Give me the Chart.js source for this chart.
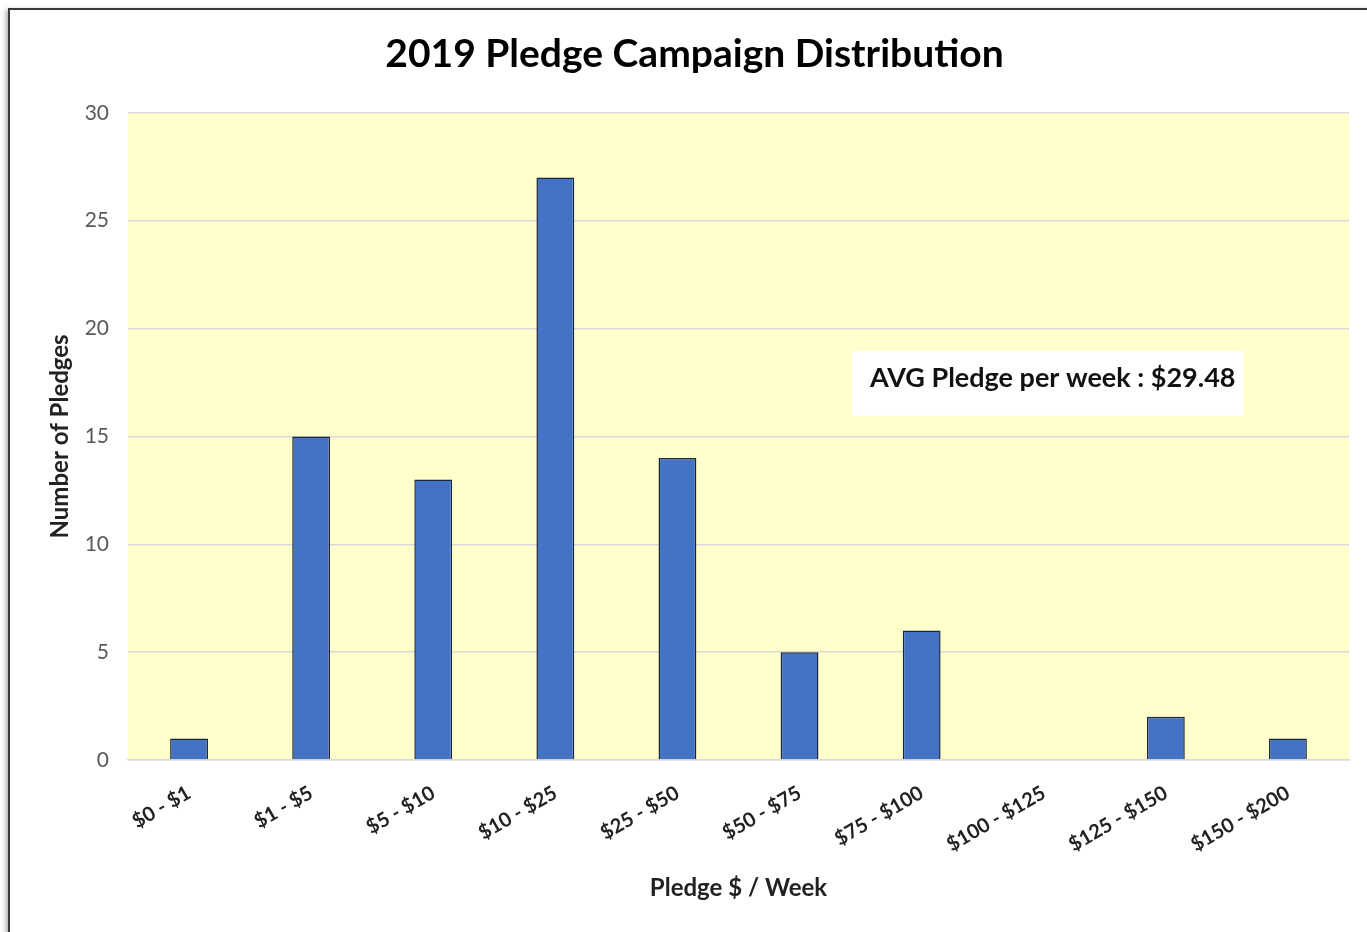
<!DOCTYPE html>
<html>
<head>
<meta charset="utf-8">
<script src="https://cdn.jsdelivr.net/npm/chart.js@4"></script>
<style>
  html, body { margin: 0; padding: 0; background: #fff; overflow: hidden; }
  #frame {
    position: absolute; left: 8px; top: 8px; width: 1400px; height: 960px;
    border: 2px solid #3a3a3a; box-shadow: -2px 2px 5px rgba(0,0,0,0.35);
  }
  #wrap { position: absolute; left: 0; top: 0; width: 1367px; height: 932px; }
</style>
</head>
<body>
<div id="frame"></div>
<div id="wrap"><canvas id="chart"></canvas></div>
<script>
// Pledge bands and counts
const categories = ['$0 - $1', '$1 - $5', '$5 - $10', '$10 - $25', '$25 - $50', '$50 - $75', '$75 - $100', '$100 - $125', '$125 - $150', '$150 - $200'];
const pledgeCounts = [1, 15, 13, 27, 14, 5, 6, 0, 2, 1];
const yTicks = [0, 5, 10, 15, 20, 25, 30];
const avgLabel = 'AVG Pledge per week : $29.48';

const FONT = 'Lato, "Open Sans", sans-serif';

// yellow plot background
const plotBg = {
    id: 'plotBg',
    beforeDraw(chart) {
        const { ctx, chartArea: a } = chart;
        ctx.save();
        ctx.fillStyle = '#FFFFCC';
        ctx.fillRect(a.left, a.top, a.right - a.left, a.bottom - a.top);
        ctx.restore();
    }
};

// white text box with the average
const avgBox = {
    id: 'avgBox',
    afterDraw(chart) {
        const { ctx, chartArea: a } = chart;
        const x = a.left + 724, y = a.top + 238;
        ctx.save();
        ctx.fillStyle = '#ffffff';
        ctx.fillRect(x, y, 392, 65);
        ctx.fillStyle = '#111';
        ctx.font = 'bold 27px ' + FONT;
        ctx.textBaseline = 'middle';
        ctx.fillText(avgLabel, x + 18, y + 27);
        ctx.restore();
    }
};

new Chart(document.getElementById('chart'), {
    type: 'bar',
    data: {
        labels: categories,
        datasets: [{
            data: pledgeCounts,
            backgroundColor: '#4472C4',
            borderColor: '#1a263d',
            borderWidth: 1.5,
            categoryPercentage: 1,
            barPercentage: 0.31
        }]
    },
    options: {
        responsive: true,
        maintainAspectRatio: false,
        animation: false,
        layout: { padding: { left: 40, right: 18, top: 0, bottom: 0 } },
        plugins: {
            legend: { display: false },
            tooltip: { enabled: false },
            title: {
                display: true,
                text: '2019 Pledge Campaign Distribution',
                color: '#000',
                font: { family: FONT, size: 39, weight: 'bold' },
                padding: { top: 31, bottom: 35 }
            }
        },
        scales: {
            x: {
                grid: { display: false },
                border: { color: '#d9d9d9', width: 1.5 },
                ticks: {
                    color: '#222',
                    font: { family: FONT, size: 20, weight: 'bold' },
                    minRotation: 30, maxRotation: 30,
                    padding: 13
                },
                title: {
                    display: true,
                    text: 'Pledge $ / Week',
                    color: '#222',
                    font: { family: FONT, size: 24, weight: 'bold' },
                    padding: { top: 0, bottom: 29 }
                },
                afterFit(scale) { scale.height = 172; }
            },
            y: {
                min: 0, max: 30,
                afterBuildTicks(scale) { scale.ticks = yTicks.map(v => ({ value: v })); },
                grid: { color: '#d9d9d9', lineWidth: 1.5, drawTicks: false },
                border: { display: false },
                ticks: {
                    color: '#595959',
                    font: { family: FONT, size: 21 },
                    padding: 19
                },
                title: {
                    display: true,
                    text: 'Number of Pledges',
                    color: '#222',
                    font: { family: FONT, size: 24, weight: 'bold' },
                    padding: { top: 6, bottom: 0 }
                },
                afterFit(scale) { scale.width = 88; }
            }
        }
    },
    plugins: [plotBg, avgBox]
});
</script>
</body>
</html>
